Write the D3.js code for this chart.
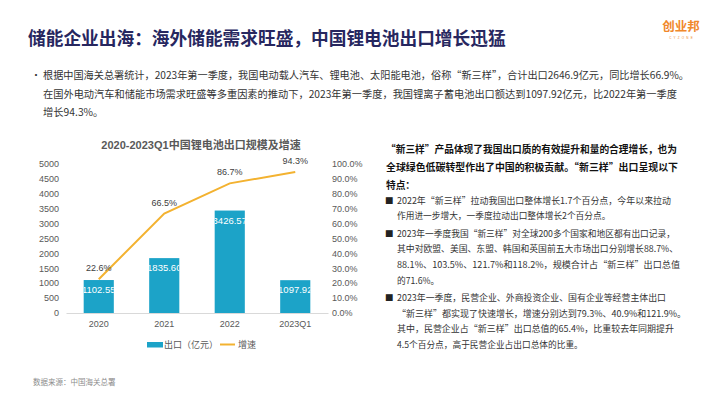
<!DOCTYPE html>
<html>
<head>
<meta charset="utf-8">
<script src="https://cdn.jsdelivr.net/npm/d3@7"></script>
<style>
  body { margin: 0; background: #fff; }
  svg { display: block; font-family: "Noto Sans CJK SC", "Noto Sans", sans-serif; }
  .axis text { font-family: "Liberation Sans", Arial, sans-serif; font-size: 9px; fill: #595959; }
</style>
</head>
<body>
<svg id="page"></svg>
<script>
const W = 710, H = 399;

// chart data
const years = ["2020", "2021", "2022", "2023Q1"];
const exportValues = [1102.55, 1835.60, 3426.57, 1097.92];
const growthRates = [22.6, 66.5, 86.7, 94.3];
const leftTicks = [0, 500, 1000, 1500, 2000, 2500, 3000, 3500, 4000, 4500, 5000];
const rightTicks = [0, 10, 20, 30, 40, 50, 60, 70, 80, 90, 100];
const legendLabels = ["出口（亿元）", "增速"];

// page texts
const pageTitle = "储能企业出海：海外储能需求旺盛，中国锂电池出口增长迅猛";
const introLines = [
  "根据中国海关总署统计，2023年第一季度，我国电动载人汽车、锂电池、太阳能电池，俗称“新三样”，合计出口2646.9亿元，同比增长66.9%。",
  "在国外电动汽车和储能市场需求旺盛等多重因素的推动下，2023年第一季度，我国锂离子蓄电池出口额达到1097.92亿元，比2022年第一季度",
  "增长94.3%。"
];
const introWidths = [646, 634, null];
const headLines = [
  "“新三样”产品体现了我国出口质的有效提升和量的合理增长，也为",
  "全球绿色低碳转型作出了中国的积极贡献。“新三样”出口呈现以下",
  "特点："
];
const headWidths = [291, 292, null];
const bulletItems = [
  ["2022年“新三样”拉动我国出口整体增长1.7个百分点，今年以来拉动",
   "作用进一步增大，一季度拉动出口整体增长2个百分点。"],
  ["2023年一季度我国“新三样”对全球200多个国家和地区都有出口记录，",
   "其中对欧盟、美国、东盟、韩国和英国前五大市场出口分别增长88.7%、",
   "88.1%、103.5%、121.7%和118.2%，规模合计占“新三样”出口总值",
   "的71.6%。"],
  ["2023年一季度，民营企业、外商投资企业、国有企业等经营主体出口",
   "“新三样”都实现了快速增长，增速分别达到79.3%、40.9%和121.9%。",
   "其中，民营企业占“新三样”出口总值的65.4%，比重较去年同期提升",
   "4.5个百分点，高于民营企业占出口总体的比重。"]
];
const bulletWidths = [
  [274, null],
  [278, 281, 283, null],
  [269, 289, 277, null]
];
const sourceText = "数据来源：中国海关总署";

const barColor = "#1ca3c8";
const lineColor = "#f3b230";

const svg = d3.select("#page").attr("width", W).attr("height", H);
svg.append("rect").attr("width", W).attr("height", H).attr("fill", "#fff");

// sets textLength only where the reference line runs full width
function fit(sel, w) {
  if (w) sel.attr("textLength", w).attr("lengthAdjust", "spacingAndGlyphs");
}

// header
svg.append("text")
  .attr("x", 28).attr("y", 45)
  .attr("font-size", 17.7).attr("font-weight", "bold")
  .attr("fill", "#27275f")
  .text(pageTitle);

svg.append("text")
  .attr("x", 681).attr("y", 31)
  .attr("text-anchor", "middle")
  .attr("font-size", 12.5).attr("font-weight", "bold")
  .attr("fill", "#f0882a")
  .text("创业邦");
svg.append("text")
  .attr("x", 682).attr("y", 38.5)
  .attr("text-anchor", "middle")
  .attr("font-size", 3).attr("letter-spacing", 2.2)
  .attr("font-family", "Liberation Sans")
  .attr("fill", "#f0882a")
  .text("CYZONE");

// intro paragraph
svg.append("text")
  .attr("x", 31).attr("y", 79)
  .attr("font-size", 10).attr("fill", "#333")
  .text("•");
introLines.forEach((ln, i) => {
  svg.append("text")
    .attr("x", 43)
    .attr("y", 79 + i * 18.5)
    .attr("font-size", 10.3)
    .attr("fill", "#333")
    .text(ln)
    .call(fit, introWidths[i]);
});

// right text block
headLines.forEach((ln, i) => {
  svg.append("text")
    .attr("x", 386)
    .attr("y", 153 + i * 18)
    .attr("font-size", 9.7).attr("font-weight", "bold")
    .attr("fill", "#111")
    .text(ln)
    .call(fit, headWidths[i]);
});

let by = 203.5;
bulletItems.forEach((lines, k) => {
  svg.append("text")
    .attr("x", 385).attr("y", by)
    .attr("font-size", 8.5).attr("fill", "#222")
    .text("■");
  lines.forEach((ln, j) => {
    svg.append("text")
      .attr("x", 397).attr("y", by + j * 15.7)
      .attr("font-size", 8.7).attr("fill", "#333")
      .text(ln)
      .call(fit, bulletWidths[k][j]);
  });
  by += lines.length * 15.7 + 1.6;
});

svg.append("text")
  .attr("x", 33).attr("y", 385)
  .attr("font-size", 7.5).attr("fill", "#8c8c8c")
  .text(sourceText);

// chart
const plot = { left: 66, right: 328, top: 163.5, bottom: 313 };

const x = d3.scaleBand()
  .domain(years)
  .range([plot.left, plot.right])
  .paddingInner(0.54)
  .paddingOuter(0.27);

const y = d3.scaleLinear().domain([0, 5000]).range([plot.bottom, plot.top]);
const y2 = d3.scaleLinear().domain([0, 100]).range([plot.bottom, plot.top]);

svg.append("text")
  .attr("x", 201).attr("y", 149)
  .attr("text-anchor", "middle")
  .attr("font-size", 11).attr("font-weight", "bold")
  .attr("fill", "#595959")
  .style("font-family", "'Liberation Sans', 'Noto Sans CJK SC', sans-serif")
  .text("2020-2023Q1中国锂电池出口规模及增速");

const yAxis = svg.append("g")
  .attr("class", "axis")
  .attr("transform", `translate(${plot.left},0)`)
  .call(d3.axisLeft(y).tickValues(leftTicks).tickSize(0).tickPadding(7)
    .tickFormat(d3.format("d")));
yAxis.select(".domain").remove();

const y2Axis = svg.append("g")
  .attr("class", "axis")
  .attr("transform", `translate(${plot.right},0)`)
  .call(d3.axisRight(y2).tickValues(rightTicks).tickSize(0).tickPadding(4)
    .tickFormat(d => d.toFixed(1) + "%"));
y2Axis.select(".domain").remove();

const xAxis = svg.append("g")
  .attr("class", "axis")
  .attr("transform", `translate(0,${plot.bottom})`)
  .call(d3.axisBottom(x).tickSize(0).tickPadding(8));
xAxis.select(".domain").attr("stroke", "#d9d9d9").attr("stroke-width", 1);

// bars
const defs = svg.append("defs");
defs.selectAll("clipPath")
  .data(years)
  .join("clipPath")
  .attr("id", (d, i) => "clip" + i)
  .append("rect")
  .attr("x", d => x(d))
  .attr("y", plot.top - 20)
  .attr("width", x.bandwidth())
  .attr("height", plot.bottom - plot.top + 20);

svg.append("g").selectAll("rect")
  .data(exportValues)
  .join("rect")
  .attr("x", (d, i) => x(years[i]))
  .attr("y", d => y(d))
  .attr("width", x.bandwidth())
  .attr("height", d => y(0) - y(d))
  .attr("fill", barColor);

svg.append("g").selectAll("text")
  .data(exportValues)
  .join("text")
  .attr("clip-path", (d, i) => `url(#clip${i})`)
  .attr("x", (d, i) => x(years[i]) + x.bandwidth() / 2)
  .attr("y", d => y(d) + 13)
  .attr("text-anchor", "middle")
  .attr("font-family", "Liberation Sans")
  .attr("font-size", 9.5)
  .attr("fill", "#fff")
  .text(d => d.toFixed(2));

// growth line
const line = d3.line()
  .x((d, i) => x(years[i]) + x.bandwidth() / 2)
  .y(d => y2(d));

svg.append("path")
  .datum(growthRates)
  .attr("d", line)
  .attr("fill", "none")
  .attr("stroke", lineColor)
  .attr("stroke-width", 2);

svg.append("g").selectAll("text")
  .data(growthRates)
  .join("text")
  .attr("x", (d, i) => x(years[i]) + x.bandwidth() / 2)
  .attr("y", d => y2(d) - 8)
  .attr("text-anchor", "middle")
  .attr("font-family", "Liberation Sans")
  .attr("font-size", 9)
  .attr("fill", "#404040")
  .text(d => d.toFixed(1) + "%");

// legend
const legend = svg.append("g");
legend.append("rect")
  .attr("x", 147).attr("y", 342).attr("width", 16).attr("height", 5.5)
  .attr("fill", barColor);
legend.append("text")
  .attr("x", 164).attr("y", 348)
  .attr("font-size", 9).attr("fill", "#595959")
  .text(legendLabels[0]);
legend.append("line")
  .attr("x1", 220).attr("x2", 235).attr("y1", 344.5).attr("y2", 344.5)
  .attr("stroke", lineColor).attr("stroke-width", 2);
legend.append("text")
  .attr("x", 238).attr("y", 348)
  .attr("font-size", 9).attr("fill", "#595959")
  .text(legendLabels[1]);
</script>
</body>
</html>
